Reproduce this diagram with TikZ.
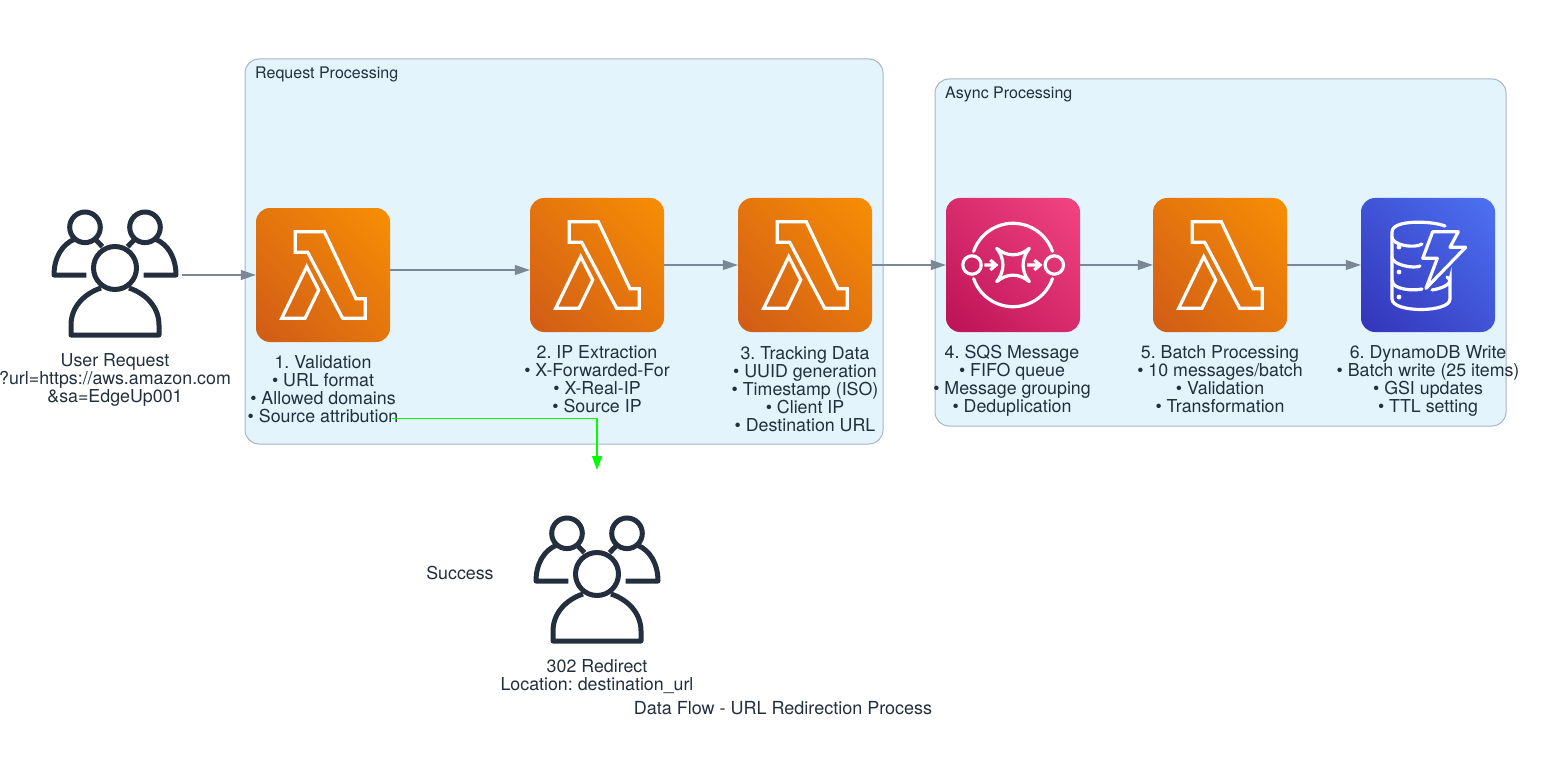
\documentclass[tikz,border=0pt]{standalone}
\usepackage{fontspec}
\setmainfont{TeX Gyre Heros}
\frenchspacing
\usetikzlibrary{arrows.meta}
\definecolor{inkdark}{HTML}{232F3E}
\definecolor{edgegray}{HTML}{7B8794}
\definecolor{clusterfill}{HTML}{E3F4FC}
\definecolor{clusterline}{HTML}{A6B6C2}
\definecolor{lambdalo}{HTML}{C8511B}
\definecolor{lambdahi}{HTML}{FF9900}
\definecolor{sqslo}{HTML}{B0084D}
\definecolor{sqshi}{HTML}{FF4F8B}
\definecolor{dynamolo}{HTML}{2E27AD}
\definecolor{dynamohi}{HTML}{527FFF}
\pgfdeclarehorizontalshading{lambdashade}{100bp}{color(0bp)=(lambdalo); color(100bp)=(lambdahi)}
\pgfdeclarehorizontalshading{sqsshade}{100bp}{color(0bp)=(sqslo); color(100bp)=(sqshi)}
\pgfdeclarehorizontalshading{dynamoshade}{100bp}{color(0bp)=(dynamolo); color(100bp)=(dynamohi)}
\tikzset{
  cluster/.style={draw=clusterline,fill=clusterfill,line width=1pt,rounded corners=14pt},
  clustertitle/.style={anchor=west,inner sep=0pt,text=inkdark,font=\fontsize{16}{18}\selectfont},
  awsicon/.style={minimum size=134pt,inner sep=0pt,rounded corners=14pt,shade,shading angle=45},
  lambdaicon/.style={awsicon,shading=lambdashade},
  sqsicon/.style={awsicon,shading=sqsshade},
  dynamoicon/.style={awsicon,shading=dynamoshade},
  usericon/.style={minimum size=134pt,inner sep=0pt},
  caption/.style={anchor=north,align=center,inner sep=0pt,text=inkdark,font=\fontsize{17.8}{18}\selectfont},
  flow/.style={draw=edgegray,line width=1.1pt,-{Triangle[length=15pt,width=10pt,fill=edgegray]}},
  okflow/.style={draw=green,line width=1.4pt,-{Triangle[length=14pt,width=10pt,fill=green]}},
  glyph/.style={draw=white,line width=3.2pt,line join=miter},
  lambda glyph/.pic={
    \draw[glyph] (-27.7,-43.3) -- (1.3,-43.3) -- (33,23.7) -- (42.3,23.7) -- (42.3,43.3)
      -- (19.7,43.3) -- (-15.3,-22.7) -- (-27.7,-22.7) -- cycle;
    \draw[glyph] (-16.3,-8.3) -- (-4.3,15) -- (-18,43.3) -- (-41.3,43.3) -- cycle;
  },
  sqs glyph/.pic={
    \draw[glyph,line cap=round] (-39.4,-13.6) arc[start angle=199,end angle=341,radius=41.7];
    \draw[glyph,line cap=round] (-39.4,13.6) arc[start angle=161,end angle=19,radius=41.7];
    \draw[glyph] (-41,0) circle (9.2) (41.3,0) circle (9.2);
    \draw[glyph] (-28.7,0) -- (-16.5,0) (-22.7,-5) -- (-17,0) -- (-22.7,5);
    \draw[glyph] (14,0) -- (26.8,0) (21.3,-5) -- (27,0) -- (21.3,5);
    \draw[glyph,line join=round] (-16.3,-16.7) .. controls (-6,-8) and (6,-8) .. (16.3,-16.7)
      .. controls (8,-6) and (8,6) .. (16.3,16.7) .. controls (6,8) and (-6,8) .. (-16.3,16.7)
      .. controls (-8,6) and (-8,-6) .. (-16.3,-16.7) -- cycle;
  },
  dynamo glyph/.pic={
    % stacked cylinder
    \draw[glyph,line cap=round] (17,-39) .. controls (5,-44) and (-36,-46) .. (-36,-33)
      -- (-36,-28) .. controls (-36,-20) and (-14,-16) .. (-6,-21);
    \draw[glyph,line cap=round] (-36,-28) -- (-36,-8) .. controls (-36,0) and (-14,4) .. (-8,1);
    \draw[glyph,line cap=round] (-36,-8) -- (-36,15) .. controls (-36,25) and (-14,26) .. (-6,24);
    \draw[glyph,line cap=round] (-36,15) -- (-36,34) .. controls (-36,48) and (22,48) .. (22,34)
      -- (22,15) .. controls (22,21) and (10,24) .. (4,25);
    \draw[glyph,line cap=round] (22,15) -- (19,12);
    \fill[white] (-29,-18) circle (2.4) (-29,7) circle (2.4) (-29,32) circle (2.4);
    % bolt
    \draw[glyph,line join=round] (4.7,-33.3) -- (30.3,-33.3) -- (22,-17.7) -- (37.7,-17.7)
      -- (-2,23.3) -- (9.3,-6.7) -- (-5.3,-6.7) -- cycle;
  },
  user glyph/.pic={
    \draw[draw=inkdark,line width=5pt] (0,-7) circle (21.5);
    \draw[draw=inkdark,line width=5pt,line join=round] (-14,13) .. controls (-32,19) and (-44,33) .. (-44,50)
      -- (-44,60) -- (44,60) -- (44,50) .. controls (44,33) and (32,19) .. (14,13);
    \draw[draw=inkdark,line width=5pt] (-30,-47.7) circle (15.3) (30,-47.7) circle (15.3);
    \draw[draw=inkdark,line width=5pt,line join=round] (-28.6,0) -- (-61,0)
      .. controls (-61,-17) and (-53,-31) .. (-40,-36);
    \draw[draw=inkdark,line width=5pt,line join=round] (28.6,0) -- (61,0)
      .. controls (61,-17) and (53,-31) .. (40,-36);
    \draw[draw=inkdark,line width=5pt] (-20,-36) -- (-12.6,-28.3) (20,-36) -- (12.6,-28.3);
  },
}
\begin{document}
\begin{tikzpicture}[x=1pt,y=-1pt]
\useasboundingbox (0,0) rectangle (1565,770);
% clusters
\draw[cluster] (245,59) rectangle (883,444);
\draw[cluster] (935,79) rectangle (1506,426);
\node[clustertitle] (requesttitle) at (255,74) {Request Processing};
\node[clustertitle] (asynctitle) at (945,94) {Async Processing};
% icons
\node[usericon] (userrequest) at (115,275) {};
\node[usericon] (redirect) at (597,581) {};
\foreach \name in {userrequest,redirect}
  {\pic at (\name.center) {user glyph};}
\foreach \name/\x/\y in {validation/323/275, ipextract/597/265, tracking/805/265, batch/1220/265}
  {\node[lambdaicon] (\name) at (\x,\y) {}; \pic at (\name.center) {lambda glyph};}
\node[sqsicon] (sqs) at (1013,265) {};
\pic at (sqs.center) {sqs glyph};
\node[dynamoicon] (dynamo) at (1428,265) {};
\pic at (dynamo.center) {dynamo glyph};
% captions
\node[caption] (usertext) at (115,353) {User Request\\?url=https://aws.amazon.com\\\&sa=EdgeUp001};
\node[caption] (validationtext) at (323,355) {1. Validation\\• URL format\\• Allowed domains\\• Source attribution};
\node[caption] (iptext) at (597,345) {2. IP Extraction\\• X-Forwarded-For\\• X-Real-IP\\• Source IP};
\node[caption] (trackingtext) at (805,346) {3. Tracking Data\\• UUID generation\\• Timestamp (ISO)\\• Client IP\\• Destination URL};
\node[caption] (sqstext) at (1012,345) {4. SQS Message\\• FIFO queue\\• Message grouping\\• Deduplication};
\node[caption] (batchtext) at (1220,345) {5. Batch Processing\\• 10 messages/batch\\• Validation\\• Transformation};
\node[caption] (dynamotext) at (1428,345) {6. DynamoDB Write\\• Batch write (25 items)\\• GSI updates\\• TTL setting};
\node[caption] (redirecttext) at (597,659) {302 Redirect\\Location: destination\_url};
\node[caption] (successtext) at (460,566) {Success};
\node[caption,font=\fontsize{18}{18}\selectfont] (charttitle) at (783,701) {Data Flow - URL Redirection Process};
% connectors
\coordinate (userout) at (182,275);
\coordinate (okstart) at (392,418.5);
\coordinate (okend) at (597,470);
\draw[flow] (userout) -- (validation.west);
\draw[flow] ([yshift=5pt]validation.east) -- ([yshift=-5pt]ipextract.west);
\draw[flow] (ipextract) -- (tracking);
\draw[flow] (tracking) -- (sqs);
\draw[flow] (sqs) -- (batch);
\draw[flow] (batch) -- (dynamo);
\draw[okflow] (okstart) -| (okend);
\end{tikzpicture}
\end{document}
